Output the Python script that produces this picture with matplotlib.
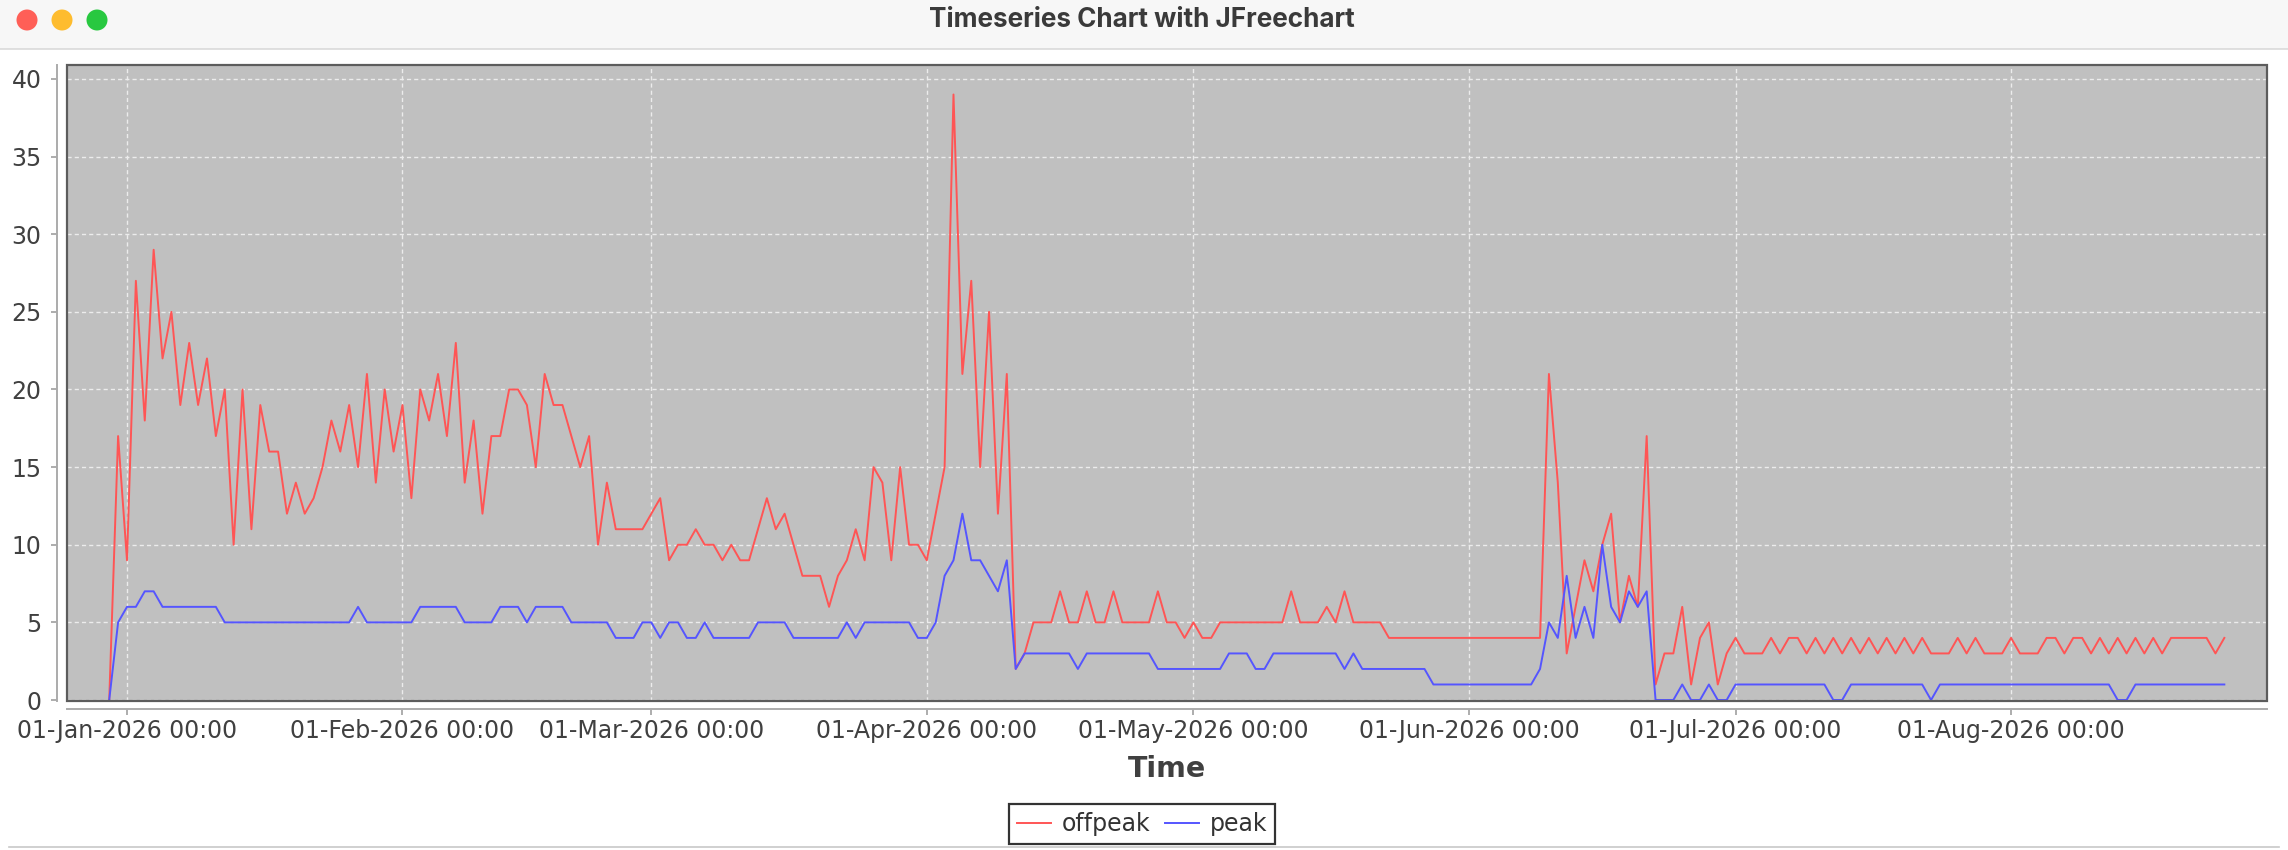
import matplotlib
matplotlib.use('Agg')
from matplotlib import pyplot as plt
import matplotlib.dates as mdates
from matplotlib.patches import Rectangle, Ellipse
from matplotlib.lines import Line2D
import pandas as pd

# daily counts, 30-Dec-2025 .. 25-Aug-2026
start_day = '2025-12-30'

offpeak = [
    0, 17,
    # Jan
    9, 27, 18, 29, 22, 25, 19, 23, 19, 22, 17, 20, 10, 20, 11, 19, 16, 16, 12, 14,
    12, 13, 15, 18, 16, 19, 15, 21, 14, 20, 16,
    # Feb
    19, 13, 20, 18, 21, 17, 23, 14, 18, 12, 17, 17, 20, 20, 19, 15, 21, 19, 19, 17,
    15, 17, 10, 14, 11, 11, 11, 11,
    # Mar
    12, 13, 9, 10, 10, 11, 10, 10, 9, 10, 9, 9, 11, 13, 11, 12, 10, 8, 8, 8,
    6, 8, 9, 11, 9, 15, 14, 9, 15, 10, 10,
    # Apr
    9, 12, 15, 39, 21, 27, 15, 25, 12, 21, 2, 3, 5, 5, 5, 7, 5, 5, 7, 5,
    5, 7, 5, 5, 5, 5, 7, 5, 5, 4,
    # May
    5, 4, 4, 5, 5, 5, 5, 5, 5, 5, 5, 7, 5, 5, 5, 6, 5, 7, 5, 5,
    5, 5, 4, 4, 4, 4, 4, 4, 4, 4, 4,
    # Jun
    4, 4, 4, 4, 4, 4, 4, 4, 4, 21, 14, 3, 6, 9, 7, 10, 12, 5, 8, 6,
    17, 1, 3, 3, 6, 1, 4, 5, 1, 3,
    # Jul
    4, 3, 3, 3, 4, 3, 4, 4, 3, 4, 3, 4, 3, 4, 3, 4, 3, 4, 3, 4,
    3, 4, 3, 3, 3, 4, 3, 4, 3, 3, 3,
    # Aug
    4, 3, 3, 3, 4, 4, 3, 4, 4, 3, 4, 3, 4, 3, 4, 3, 4, 3, 4, 4,
    4, 4, 4, 3, 4,
]

peak = [
    0, 5,
    # Jan
    6, 6, 7, 7, 6, 6, 6, 6, 6, 6, 6, 5, 5, 5, 5, 5, 5, 5, 5, 5,
    5, 5, 5, 5, 5, 5, 6, 5, 5, 5, 5,
    # Feb
    5, 5, 6, 6, 6, 6, 6, 5, 5, 5, 5, 6, 6, 6, 5, 6, 6, 6, 6, 5,
    5, 5, 5, 5, 4, 4, 4, 5,
    # Mar
    5, 4, 5, 5, 4, 4, 5, 4, 4, 4, 4, 4, 5, 5, 5, 5, 4, 4, 4, 4,
    4, 4, 5, 4, 5, 5, 5, 5, 5, 5, 4,
    # Apr
    4, 5, 8, 9, 12, 9, 9, 8, 7, 9, 2, 3, 3, 3, 3, 3, 3, 2, 3, 3,
    3, 3, 3, 3, 3, 3, 2, 2, 2, 2,
    # May
    2, 2, 2, 2, 3, 3, 3, 2, 2, 3, 3, 3, 3, 3, 3, 3, 3, 2, 3, 2,
    2, 2, 2, 2, 2, 2, 2, 1, 1, 1, 1,
    # Jun
    1, 1, 1, 1, 1, 1, 1, 1, 2, 5, 4, 8, 4, 6, 4, 10, 6, 5, 7, 6,
    7, 0, 0, 0, 1, 0, 0, 1, 0, 0,
    # Jul
    1, 1, 1, 1, 1, 1, 1, 1, 1, 1, 1, 0, 0, 1, 1, 1, 1, 1, 1, 1,
    1, 1, 0, 1, 1, 1, 1, 1, 1, 1, 1,
    # Aug
    1, 1, 1, 1, 1, 1, 1, 1, 1, 1, 1, 1, 0, 0, 1, 1, 1, 1, 1, 1,
    1, 1, 1, 1, 1,
]

days = pd.date_range(start_day, periods=len(offpeak), freq='D')
month_ticks = pd.date_range('2026-01-01', '2026-08-01', freq='MS')

W, H = 2288, 850
fig = plt.figure(figsize=(W / 100, H / 100), dpi=100)
fig.patch.set_facecolor('white')

# window title bar
fig.add_artist(Rectangle((0, 1 - 49 / H), 1, 49 / H, transform=fig.transFigure,
                         facecolor='#f7f7f7', edgecolor='none'))
fig.add_artist(Line2D([0, 1], [1 - 49 / H, 1 - 49 / H], transform=fig.transFigure,
                      color='#dadada', lw=1.2))
for cx, col in [(27, '#ff5f57'), (62, '#febc2e'), (97, '#28c840')]:
    fig.add_artist(Ellipse((cx / W, 1 - 20 / H), 21 / W, 21 / H, transform=fig.transFigure,
                           facecolor=col, edgecolor='none'))
fig.text(1142 / W, 1 - 20 / H, 'Timeseries Chart with JFreechart', ha='center', va='center',
         fontsize=18.8, fontweight='bold', color='#3a3a3a', family='Inter')
fig.add_artist(Line2D([0.004, 0.996], [1 - 847 / H, 1 - 847 / H], transform=fig.transFigure,
                      color='#c8c8c8', lw=1.2))

ax = fig.add_axes([67 / W, (H - 701) / H, 2200 / W, 636 / H])
ax.set_facecolor('#c0c0c0')

ax.plot(days, offpeak, color='#ff5555', lw=1.4, label='offpeak', zorder=3)
ax.plot(days, peak, color='#5555ff', lw=1.4, label='peak', zorder=3)

jan1 = mdates.date2num(pd.Timestamp('2026-01-01'))
ax.set_xlim(jan1 - 6.75, jan1 + 240.8)
ax.set_ylim(-0.064, 40.9)

ax.set_xticks(month_ticks)
ax.xaxis.set_major_formatter(mdates.DateFormatter('%d-%b-%Y %H:%M'))
ax.set_yticks(range(0, 41, 5))

ax.grid(True, color='#ececec', lw=1.0, linestyle=(0, (3, 2.2)), zorder=1)
ax.set_axisbelow(True)

for side in ['top', 'right']:
    ax.spines[side].set_visible(False)
ax.spines['left'].set_position(('outward', 7.2))
ax.spines['bottom'].set_position(('outward', 5.8))
for side in ['left', 'bottom']:
    ax.spines[side].set_color('#ababab')
    ax.spines[side].set_linewidth(1.4)

ax.add_patch(Rectangle((0, 0), 1, 1, transform=ax.transAxes, fill=False,
                       edgecolor='#5c5c5c', lw=1.6, zorder=5, clip_on=False))

ax.tick_params(axis='both', direction='out', length=4, width=1.2, color='#a0a0a0',
               labelsize=17, labelcolor='#404040')
ax.tick_params(axis='y', pad=7)
ax.tick_params(axis='x', pad=3.5)

ax.set_xlabel('Time', fontsize=20.5, fontweight='bold', color='#404040')
ax.xaxis.set_label_coords(0.5, -(769 - 701) / 636)
ax.xaxis.label.set_va('center')

leg = fig.legend(loc='center', bbox_to_anchor=(1142 / W, 1 - 824 / H), ncol=2,
                 fontsize=17, frameon=True, fancybox=False, handlelength=1.45,
                 handletextpad=0.45, columnspacing=0.6, borderpad=0.35, borderaxespad=0)
leg.get_frame().set_edgecolor('black')
leg.get_frame().set_linewidth(1.6)
for t in leg.get_texts():
    t.set_color('#333333')

plt.savefig('out.png', dpi=100)
